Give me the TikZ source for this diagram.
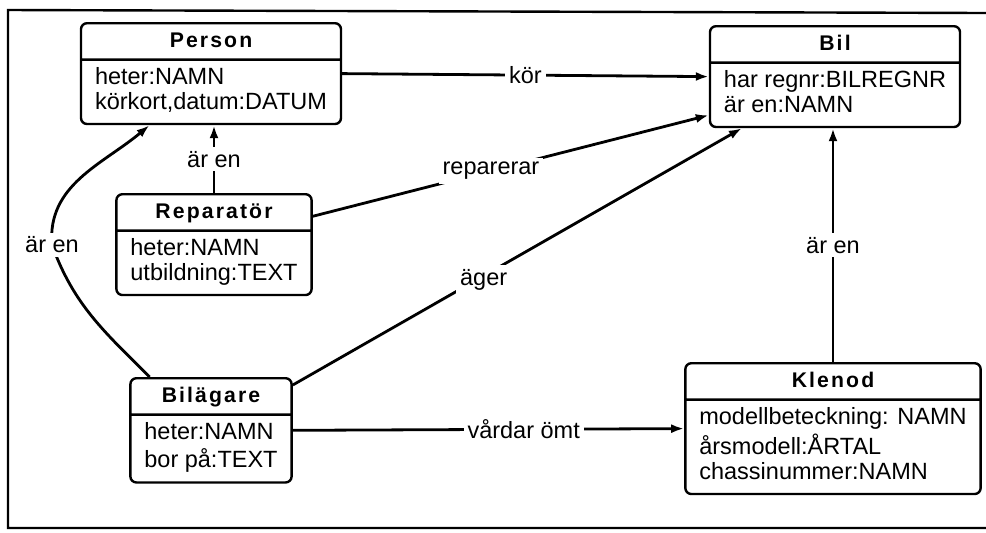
\documentclass[tikz,border=0pt]{standalone}
\usepackage{fontspec}
\setmainfont{Liberation Sans}
\newfontfamily\titelfam[LetterSpace=10]{Liberation Sans}
\usetikzlibrary{shapes.multipart,arrows.meta,positioning}

\newcommand{\attrfont}{\fontsize{11.75pt}{12.5pt}\selectfont}
\newcommand{\klasstitel}[1]{{\titelfam\bfseries\fontsize{10.6pt}{12pt}\selectfont\rule[-2.5pt]{0pt}{11pt}#1}}

\begin{document}
\begin{tikzpicture}[x=0.5pt,y=-0.5pt,
    klass/.style={draw, line width=1.2pt, rounded corners=3pt,
      rectangle split, rectangle split parts=2,
      rectangle split part align={center,left}, align=left,
      inner xsep=7pt, inner ysep=3pt, font=\attrfont},
    conn/.style={line width=1.4pt, -{Latex[length=6.5pt,width=4.5pt]}},
    etikett/.style={fill=white, inner sep=2pt, font=\attrfont}]
  \useasboundingbox (0,0) rectangle (986,532);
  % frame
  \draw[line width=1.2pt] (986,13) -- (8,10) -- (8,528) -- (986,528);
  % classes
  \node[klass, anchor=north] (person) at (211,22)
    {\klasstitel{Person}\nodepart{two}heter:NAMN\strut\\körkort,datum:DATUM\strut};
  \node[klass, anchor=north] (reparator) at (214,193)
    {\klasstitel{Reparatör}\nodepart{two}heter:NAMN\strut\\utbildning:TEXT\strut};
  \node[klass, anchor=north] (bil) at (835,25)
    {\klasstitel{Bil}\nodepart{two}har regnr:BILREGNR\strut\\är en:NAMN\strut};
  \node[klass, anchor=north] (bilagare) at (211,377)
    {\klasstitel{Bilägare}\nodepart{two}heter:NAMN\strut\\bor på:TEXT\strut};
  \node[klass, anchor=north] (klenod) at (833,362)
    {\klasstitel{Klenod}\nodepart{two}modellbeteckning: NAMN\strut\\årsmodell:ÅRTAL\strut\\chassinummer:NAMN\strut};
  % associations
  \draw[conn] (person.east) -- node[etikett] (kor) {kör} (bil.west);
  \draw[conn] (reparator.16) -- node[etikett, pos=0.45] (reparerar) {reparerar} (bil.197);
  \draw[conn] (bilagare.29) -- node[etikett, pos=0.425, yshift=-2pt] (ager) {äger} (bil.209);
  \draw[conn] (bilagare.east) -- node[etikett, pos=0.59] (vardar) {vårdar ömt} (klenod.west);
  % specialisations
  \draw[conn] (reparator.north) -- node[etikett] (aren1) {är en} (reparator.north |- person.south);
  \draw[conn] (klenod.north) -- node[etikett] (aren2) {är en} (klenod.north |- bil.south);
  \coordinate (sving) at (52,245);
  \draw[conn] (bilagare.139) to[out=135,in=-70] (sving) to[out=95,in=-140] (person.220);
  \node[etikett] (aren3) at (sving) {är en};
\end{tikzpicture}
\end{document}
